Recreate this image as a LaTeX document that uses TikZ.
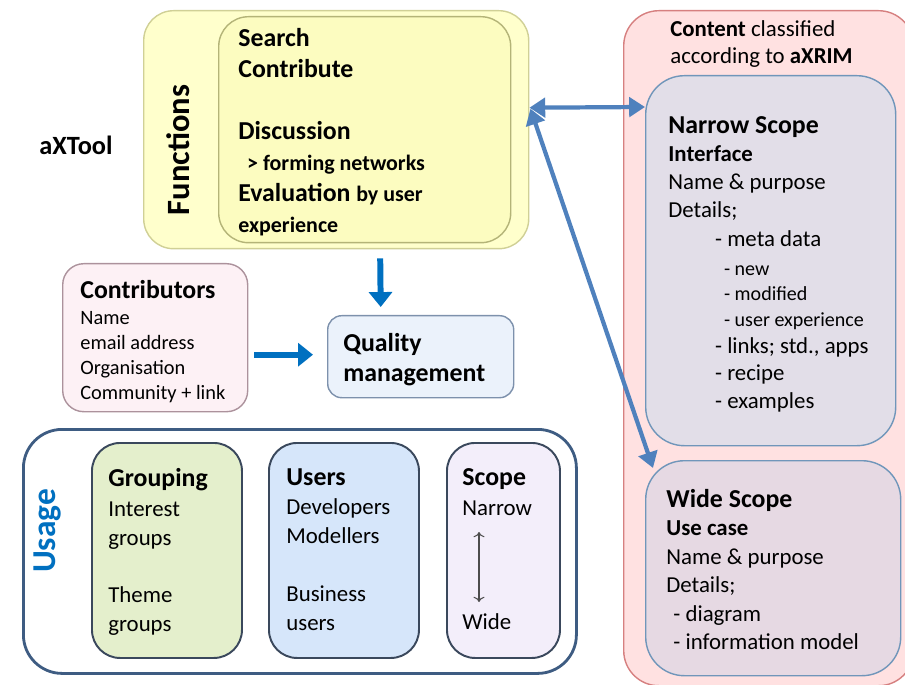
\documentclass[tikz,border=0pt]{standalone}
\usepackage{fontspec}
\setmainfont{Carlito}
\usetikzlibrary{arrows.meta,calc}
\newcommand{\pxl}{0.02cm}

\definecolor{fnfill}{RGB}{255,255,204}
\definecolor{fnline}{RGB}{208,208,150}
\definecolor{fninner}{RGB}{252,252,192}
\definecolor{fninline}{RGB}{180,180,120}
\definecolor{ctfill}{RGB}{253,241,245}
\definecolor{ctline}{RGB}{172,146,156}
\definecolor{qmfill}{RGB}{235,242,251}
\definecolor{qmline}{RGB}{125,145,172}
\definecolor{usline}{RGB}{62,92,130}
\definecolor{grfill}{RGB}{228,239,204}
\definecolor{usrfill}{RGB}{214,230,250}
\definecolor{scfill}{RGB}{243,238,250}
\definecolor{boxline}{RGB}{58,72,92}
\definecolor{cnfill}{RGB}{255,225,225}
\definecolor{cnline}{RGB}{214,128,128}
\definecolor{nsfill}{RGB}{226,222,232}
\definecolor{nsline}{RGB}{112,150,186}
\definecolor{wsfill}{RGB}{230,217,227}
\definecolor{arrblue}{RGB}{0,112,192}
\definecolor{linkblue}{RGB}{79,129,189}

\begin{document}
\begin{tikzpicture}[x=\pxl, y=-\pxl,
    box/.style={draw, rectangle, anchor=north west, inner sep=0pt, line width=0.8pt},
    txt/.style={anchor=north west, align=left, inner sep=0pt},
    flow/.style={draw=arrblue, line width=3.4pt, -{Triangle[width=13pt,length=8.5pt]}},
    link/.style={draw=linkblue, line width=2.4pt, {Triangle[width=11pt,length=9pt]}-{Triangle[width=11pt,length=9pt]}}]
    \useasboundingbox (0,0) rectangle (905,685);

    % Content column
    \node[box, fill=cnfill, draw=cnline, rounded corners=20pt, minimum width=290*\pxl, minimum height=675*\pxl] (content) at (623,10) {};
    \node[box, fill=nsfill, draw=nsline, rounded corners=22pt, minimum width=250*\pxl, minimum height=370*\pxl] (narrow) at (645,75) {};
    \node[box, fill=wsfill, draw=nsline, rounded corners=22pt, minimum width=255*\pxl, minimum height=215*\pxl] (wide) at (645,460) {};

    % Functions
    \node[box, fill=fnfill, draw=fnline, rounded corners=17pt, minimum width=385*\pxl, minimum height=238*\pxl] (funcs) at (143,10) {};
    \node[box, fill=fninner, draw=fninline, rounded corners=17pt, minimum width=292*\pxl, minimum height=226*\pxl] (funcs-in) at (218,16) {};

    % Contributors and quality
    \node[box, fill=ctfill, draw=ctline, rounded corners=12pt, minimum width=185*\pxl, minimum height=148*\pxl] (contrib) at (62,263) {};
    \node[box, fill=qmfill, draw=qmline, rounded corners=8pt, minimum width=186*\pxl, minimum height=82*\pxl] (qual) at (327,315) {};

    % Usage
    \node[box, fill=white, draw=usline, line width=1.6pt, rounded corners=22pt, minimum width=553*\pxl, minimum height=244*\pxl] (usage) at (22,428) {};
    \node[box, fill=grfill, draw=boxline, line width=1.1pt, rounded corners=16pt, minimum width=150*\pxl, minimum height=215*\pxl] (group) at (91,442) {};
    \node[box, fill=usrfill, draw=boxline, line width=1.1pt, rounded corners=16pt, minimum width=150*\pxl, minimum height=215*\pxl] (users) at (268,442) {};
    \node[box, fill=scfill, draw=boxline, line width=1.1pt, rounded corners=16pt, minimum width=113*\pxl, minimum height=215*\pxl] (scope) at (446,442) {};

    % Texts
    \node[font=\fontsize{15}{17.6}\selectfont\bfseries] (tool) at (76,145) {aXTool};
    \node[rotate=90, font=\fontsize{18.5}{21}\selectfont\bfseries] (fn-lbl) at (178,150) {Functions};
    \node[txt, font=\fontsize{14.7}{17.6}\selectfont\bfseries] (fn-txt) at (238,28)
        {Search\\Contribute\\[17.6pt]Discussion\\{\fontsize{12.5}{15}\selectfont\hspace*{5pt}> forming networks}\\
         Evaluation {\fontsize{12.5}{15}\selectfont by user}\\{\fontsize{12.5}{15}\selectfont experience}};
    \node[txt, font=\fontsize{11.6}{14.2}\selectfont] (ct-txt) at (80,280)
        {{\fontsize{14.7}{17}\selectfont\bfseries Contributors}\\[0.8pt]Name\\email address\\Organisation\\Community + link};
    \node[txt, font=\fontsize{14.7}{17}\selectfont\bfseries] (qm-txt) at (343,333) {Quality\\management};

    \node[rotate=90, text=arrblue, font=\fontsize{19}{22}\selectfont\bfseries] (us-lbl) at (48,531) {Usage};
    \node[txt, font=\fontsize{13}{16.4}\selectfont] (gr-txt) at (108,468)
        {{\fontsize{14.7}{17}\selectfont\bfseries Grouping}\\[0.6pt]Interest\\groups\\[16.4pt]Theme\\groups};
    \node[txt, font=\fontsize{13}{16.4}\selectfont] (usr-txt) at (286,468)
        {{\fontsize{14.7}{17}\selectfont\bfseries Users}\\[0.6pt]Developers\\Modellers\\[16.4pt]Business\\users};
    \node[txt, font=\fontsize{13}{16.4}\selectfont] (sc-txt) at (462,468)
        {{\fontsize{14.7}{17}\selectfont\bfseries Scope}\\[0.6pt]Narrow};
    \node[txt, font=\fontsize{13}{16.4}\selectfont] (sc-wide) at (462,613) {Wide};

    \node[txt, font=\fontsize{13}{15.3}\selectfont] (cn-txt) at (670,20)
        {\textbf{Content} classified\\according to \textbf{aXRIM}};
    \node[txt, font=\fontsize{13}{15.9}\selectfont] (ns-txt) at (668,116)
        {{\fontsize{14.7}{17}\selectfont\bfseries Narrow Scope}\\
         \textbf{Interface}\\[0.4pt]
         Name \& purpose\\
         Details;\\[0.4pt]
         \hspace*{26.6pt}- meta data\\[0.4pt]
         {\fontsize{11.4}{12}\selectfont\hspace*{31.7pt}- new}\\[-1.7pt]
         {\fontsize{11.4}{12}\selectfont\hspace*{31.7pt}- modified}\\[-1.1pt]
         {\fontsize{11.4}{12}\selectfont\hspace*{31.7pt}- user experience}\\[-0.5pt]
         \hspace*{26.6pt}- links; std., apps\\[-0.5pt]
         \hspace*{26.6pt}- recipe\\
         \hspace*{26.6pt}- examples};
    \node[txt, font=\fontsize{13}{16.2}\selectfont] (ws-txt) at (666,489)
        {{\fontsize{14.7}{17}\selectfont\bfseries Wide Scope}\\
         \textbf{Use case}\\
         Name \& purpose\\
         Details;\\
         \hspace*{4pt}- diagram\\
         \hspace*{4pt}- information model};

    % Connectors
    \coordinate (sc-a) at (479,532);
    \coordinate (sc-b) at (479,602);
    \draw[{To[length=3pt]}-{To[length=3pt]}, draw=black!70, line width=0.6pt] (sc-a) -- (sc-b);
    \draw[flow] ($(funcs.south)+(44,9)$) -- ($(qual.north)+(-40,-8)$);
    \draw[flow] ($(contrib.east)+(6,17)$) -- ($(qual.west)+(-14,-2)$);
    \draw[link] ($(funcs.east)+(0,-22)$) -- ($(narrow.north west)+(0,32)$);
    \draw[link] ($(funcs.east)+(1,-21)$) -- ($(wide.north west)+(8,8)$);
\end{tikzpicture}
\end{document}
